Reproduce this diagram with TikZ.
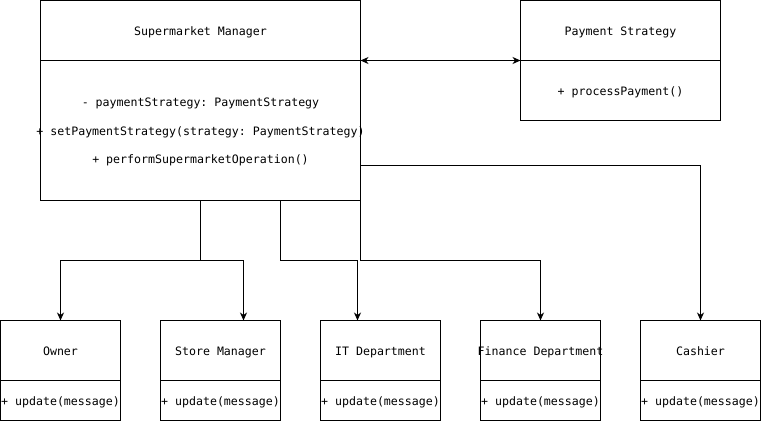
\documentclass[tikz,border=0pt]{standalone}
\usepackage{fontspec}
\setmonofont{DejaVu Sans Mono}
\usetikzlibrary{arrows.meta,positioning}

\begin{document}
\begin{tikzpicture}[x=1pt, y=-1pt, line width=1pt, node distance=0pt,
        font=\ttfamily\fontsize{11.6}{14}\selectfont,
        classhead/.style={draw, rectangle, minimum height=60pt, inner sep=0pt, outer sep=0pt,
            text height=10pt, text depth=0pt},
        classbody/.style={draw, rectangle, inner sep=0pt, outer sep=0pt, align=center},
        opsbox/.style={classbody, minimum width=120pt, minimum height=40pt, text height=10pt, text depth=0pt},
        arr/.style={-{Stealth[length=8pt,width=7pt,inset=2.5pt]}}]
    \useasboundingbox (-0.5,-0.5) rectangle (760.5,420.5);

    % subject and strategy
    \node (SM) [classhead, minimum width=320pt] at (200,30) {Supermarket Manager};
    \node (SMops) [classbody, minimum width=320pt, minimum height=140pt, below=of SM]
        {\rule{0pt}{12pt}- paymentStrategy: PaymentStrategy\\[14.5pt]
         \makebox[0pt]{+ setPaymentStrategy(strategy: PaymentStrategy)}\\[14.5pt]
         + performSupermarketOperation()};
    \node (PS) [classhead, minimum width=200pt] at (620,30) {Payment Strategy};
    \node (PSops) [opsbox, minimum width=200pt, minimum height=60pt, below=of PS] {+ processPayment()};

    % observers
    \node (Owner) [classhead, minimum width=120pt] at (60,350) {Owner};
    \node (Ownerops) [opsbox, below=of Owner] {+ update(message)};
    \node (Store) [classhead, minimum width=120pt] at (220,350) {Store Manager};
    \node (Storeops) [opsbox, below=of Store] {+ update(message)};
    \node (IT) [classhead, minimum width=120pt] at (380,350) {IT Department};
    \node (ITops) [opsbox, below=of IT] {+ update(message)};
    \node (Fin) [classhead, minimum width=120pt] at (540,350) {\makebox[0pt]{Finance Department}};
    \node (Finops) [opsbox, below=of Fin] {+ update(message)};
    \node (Cashier) [classhead, minimum width=120pt] at (700,350) {Cashier};
    \node (Cashierops) [opsbox, below=of Cashier] {+ update(message)};

    \draw[{Stealth[length=8pt,width=7pt,inset=2.5pt]}-{Stealth[length=8pt,width=7pt,inset=2.5pt]}]
        (SM.south east) -- (PS.south west);

    \draw[arr] (SMops.south) -- ++(0,60) -| (Owner.north);
    \draw[arr] (SMops.south) -- ++(0,60) -| ([xshift=23pt]Store.north);
    \draw[arr] ([xshift=80pt]SMops.south) -- ++(0,60) -| ([xshift=-23pt]IT.north);
    \draw[arr] (SMops.south east) -- ++(0,60) -| (Fin.north);
    \draw[arr] ([yshift=-35pt]SMops.east) -| (Cashier.north);
\end{tikzpicture}
\end{document}
